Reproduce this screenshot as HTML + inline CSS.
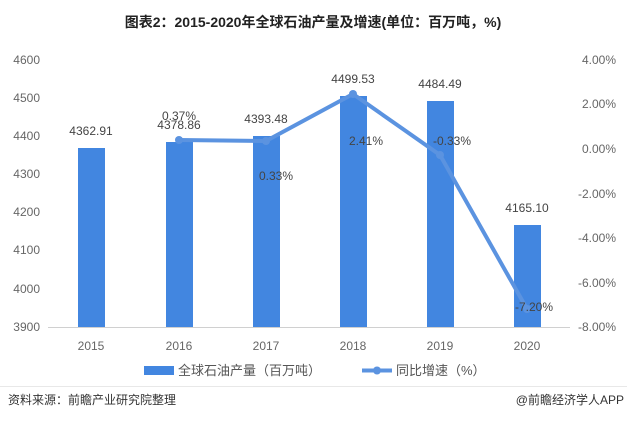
<!DOCTYPE html>
<html><head><meta charset="utf-8"><style>
body{margin:0;background:#fff;}
svg text{font-family:"Liberation Sans","Noto Sans CJK SC",sans-serif;}
</style></head><body>
<svg width="627" height="420" xmlns="http://www.w3.org/2000/svg">
<rect width="627" height="420" fill="#fff"/>
<text x="313" y="27" text-anchor="middle" font-size="14" font-weight="bold" fill="#222">图表2：2015-2020年全球石油产量及增速(单位：百万吨，%)</text>
<g font-size="12" fill="#666" text-anchor="end">
<text x="40" y="64">4600</text><text x="40" y="102">4500</text><text x="40" y="140">4400</text>
<text x="40" y="178">4300</text><text x="40" y="216">4200</text><text x="40" y="254">4100</text>
<text x="40" y="293">4000</text><text x="40" y="331">3900</text>
</g>
<g font-size="12" fill="#666" text-anchor="start">
<text x="582" y="64">4.00%</text><text x="582" y="108">2.00%</text><text x="582" y="153">0.00%</text>
<text x="578" y="198">-2.00%</text><text x="578" y="242">-4.00%</text><text x="578" y="287">-6.00%</text><text x="578" y="331">-8.00%</text>
</g>
<line x1="48" y1="327.5" x2="570" y2="327.5" stroke="#d0d0d0" stroke-width="1"/>
<g fill="#4286e0">
<rect x="78" y="148" width="27" height="179"/>
<rect x="166" y="142" width="27" height="185"/>
<rect x="253" y="136" width="27" height="191"/>
<rect x="340" y="96" width="27" height="231"/>
<rect x="427" y="101" width="27" height="226"/>
<rect x="514" y="225" width="27" height="102"/>
</g>
<polyline points="179,140 266,141 353,94 440,155 527,309" fill="none" stroke="#5b93e0" stroke-width="4" stroke-linejoin="round"/>
<g fill="#5b93e0"><circle cx="179" cy="140" r="4"/><circle cx="266" cy="141" r="4"/><circle cx="353" cy="94" r="4"/><circle cx="440" cy="155" r="4"/><circle cx="527" cy="309" r="4"/></g>
<g font-size="12" fill="#444" text-anchor="middle">
<text x="91" y="135">4362.91</text><text x="179" y="129">4378.86</text><text x="266" y="123">4393.48</text>
<text x="353" y="83">4499.53</text><text x="440" y="88">4484.49</text><text x="527" y="212">4165.10</text>
<text x="179" y="120">0.37%</text><text x="276" y="180">0.33%</text><text x="366" y="145">2.41%</text>
<text x="452" y="145">-0.33%</text><text x="534" y="311">-7.20%</text>
</g>
<g font-size="12" fill="#666" text-anchor="middle">
<text x="91" y="350">2015</text><text x="179" y="350">2016</text><text x="266" y="350">2017</text>
<text x="353" y="350">2018</text><text x="440" y="350">2019</text><text x="527" y="350">2020</text>
</g>
<rect x="144" y="366" width="30" height="9" fill="#4286e0"/>
<text x="178" y="375" font-size="13" fill="#555">全球石油产量（百万吨）</text>
<line x1="362" y1="370.5" x2="392" y2="370.5" stroke="#5b93e0" stroke-width="4"/>
<circle cx="377" cy="370.5" r="4" fill="#5b93e0"/>
<text x="396" y="375" font-size="13" fill="#555">同比增速（%）</text>
<line x1="0" y1="386.5" x2="627" y2="386.5" stroke="#e8e8e8"/>
<text x="8" y="404" font-size="12" fill="#333">资料来源：前瞻产业研究院整理</text>
<text x="624" y="404" font-size="12" fill="#333" text-anchor="end">@前瞻经济学人APP</text>
</svg>
</body></html>
